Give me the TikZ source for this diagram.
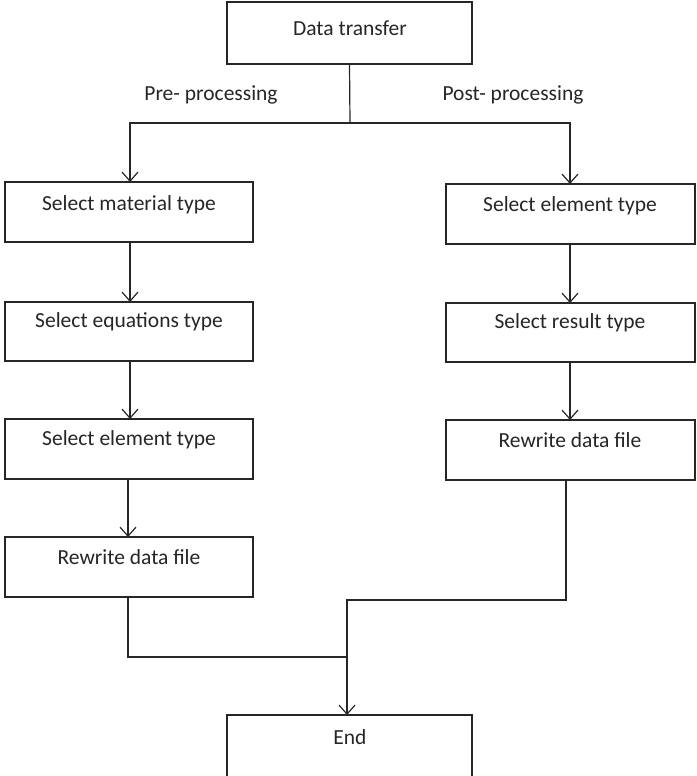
\documentclass[tikz,border=0pt]{standalone}
\usepackage{fontspec}
\setmainfont{Carlito}
\usetikzlibrary{arrows.meta}
\begin{document}
\begin{tikzpicture}[x=1pt,y=-1pt,
  box/.style={draw=black!85,line width=1.2pt,fill=white,outer sep=0pt},
  lbl/.style={font=\fontsize{21.5}{25}\selectfont,text=black!85,inner sep=0pt},
  conn/.style={draw=black!85,line width=1.2pt},
  arr/.style={conn,-{Straight Barb[length=9pt,width=16pt,line width=1.2pt]}}]
\useasboundingbox (0,0) rectangle (696,776);
% boxes
\node[box,minimum width=245pt,minimum height=62pt,anchor=north west] (dt) at (227,2) {};
\node[lbl] (dtt) at (350,28) {Data transfer};
\node[box,minimum width=248pt,minimum height=60pt,anchor=north west] (l1) at (5,182) {};
\node[lbl] at (129,205) {Select material type};
\node[box,minimum width=248pt,minimum height=59pt,anchor=north west] (l2) at (5,302) {};
\node[lbl] at (129,322) {Select equations type};
\node[box,minimum width=248pt,minimum height=60pt,anchor=north west] (l3) at (5,419) {};
\node[lbl] at (129,440) {Select element type};
\node[box,minimum width=248pt,minimum height=60pt,anchor=north west] (l4) at (5,537) {};
\node[lbl] at (129,557) {Rewrite data file};
\node[box,minimum width=249pt,minimum height=60pt,anchor=north west] (r1) at (446,184) {};
\node[lbl] at (570,206) {Select element type};
\node[box,minimum width=249pt,minimum height=59pt,anchor=north west] (r2) at (446,303) {};
\node[lbl] at (570,323) {Select result type};
\node[box,minimum width=249pt,minimum height=60pt,anchor=north west] (r3) at (446,420) {};
\node[lbl] at (570,440) {Rewrite data file};
\node[box,minimum width=245pt,minimum height=62pt,anchor=north west] (en) at (227,715) {};
\node[lbl] at (350,737) {End};
% labels
\node[lbl] (pre) at (211,95) {Pre- processing};
\node[lbl] (post) at (513,95) {Post- processing};
% connectors
\coordinate (split) at (350,123);
\coordinate (join) at (347,657);
\draw[conn] (dt.south) -- (split);
\draw[arr] (split) -| (l1.north -| 130,0);
\draw[arr] (split) -| (r1.north -| 570,0);
\draw[arr] (l1.south -| 130,0) -- (l2.north -| 130,0);
\draw[arr] (l2.south -| 130,0) -- (l3.north -| 130,0);
\draw[arr] (l3.south -| 128,0) -- (l4.north -| 128,0);
\draw[arr] (r1.south -| 570,0) -- (r2.north -| 570,0);
\draw[arr] (r2.south -| 570,0) -- (r3.north -| 570,0);
\draw[conn] (l4.south -| 128,0) |- (join);
\draw[conn] (r3.south -| 566,0) |- (347,600) -- (join);
\draw[arr] (join) -- (en.north -| join);
\end{tikzpicture}
\end{document}
